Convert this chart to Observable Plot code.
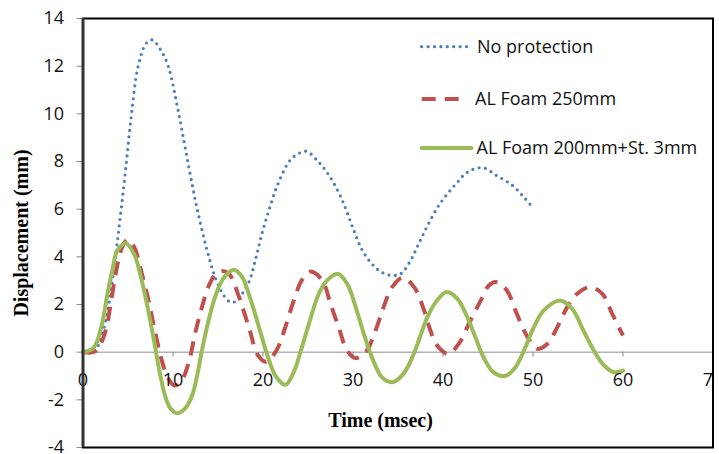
<!DOCTYPE html>
<html>
<head>
<meta charset="utf-8">
<script src="https://cdn.jsdelivr.net/npm/d3@7"></script>
<script src="https://cdn.jsdelivr.net/npm/@observablehq/plot@0.6"></script>
<style>
  body { margin: 0; background: #fff; }
  #chart { position: relative; width: 719px; height: 454px; }
  #legend { position: absolute; left: 0; top: 0; pointer-events: none; }
</style>
</head>
<body>
<div id="chart"></div>
<script>
// Displacement histories (time in msec, displacement in mm)
const noProtT = [0, 1.2, 2.0, 2.87, 3.61, 4.24, 4.83, 5.39, 6.13, 7.0, 7.7, 8.6, 9.47, 10.64, 11.64, 12.69, 13.98, 14.83, 15.7, 16.4, 17.2, 17.9, 18.5, 19.24, 19.9, 20.7, 21.6, 22.9, 23.8, 24.8, 26.0, 27.0, 28.0, 29.0, 30.0, 31.0, 32.0, 33.0, 34.2, 35.3, 36.4, 37.3, 38.2, 39.4, 40.5, 41.6, 42.7, 44.4, 46.0, 47.7, 49.0, 50];
const noProtD = [0, 0, 0.6, 2, 4, 6, 8, 10, 12, 12.95, 13.1, 12.7, 12, 10, 8, 6, 4, 3, 2.35, 2.1, 2.17, 2.59, 3, 4, 5, 6, 7, 8, 8.3, 8.43, 8.05, 7.6, 7.0, 6.2, 5.2, 4.3, 3.75, 3.4, 3.22, 3.29, 3.85, 4.55, 5.25, 6.08, 6.65, 7.13, 7.55, 7.74, 7.4, 7.0, 6.5, 6.05];

const foamT = [0, 1.4, 2.2, 2.7, 3.1, 3.5, 3.9, 4.4, 4.95, 5.7, 6.4, 7.2, 7.9, 8.65, 9.4, 10.2, 11.05, 11.8, 12.5, 13.3, 14.0, 14.8, 15.6, 16.3, 17.4, 18.5, 19.4, 20.3, 21.0, 21.8, 22.5, 23.4, 24.35, 25.3, 26.6, 27.5, 28.4, 29.35, 30.3, 31.4, 32.5, 33.4, 34.35, 35.5, 36.8, 37.9, 38.6, 39.35, 40.6, 41.75, 43.05, 44.2, 45.1, 45.9, 47.1, 48.2, 49.4, 50.5, 51.6, 52.7, 53.8, 54.9, 56.4, 57.7, 58.8, 60];
const foamD = [0, 0.05, 0.55, 1.2, 2.1, 3.0, 3.8, 4.45, 4.72, 4.4, 3.5, 2.3, 1.05, -0.2, -1.05, -1.4, -1.12, -0.35, 0.85, 2.0, 2.8, 3.3, 3.4, 3.25, 2.25, 0.95, -0.1, -0.4, -0.2, 0.3, 1.07, 2.14, 3.04, 3.38, 3.0, 2.03, 1.05, 0.07, -0.25, 0, 0.91, 1.89, 2.73, 3.12, 2.73, 1.75, 0.91, 0.28, -0.07, 0.35, 1.33, 2.17, 2.8, 2.94, 2.59, 1.61, 0.63, 0.14, 0.35, 1.05, 1.89, 2.45, 2.73, 2.45, 1.61, 0.7];

const foamSteelT = [0, 1.05, 1.6, 2.2, 2.7, 3.3, 3.8, 4.75, 5.7, 6.4, 7.2, 7.9, 8.5, 9.1, 9.7, 10.5, 11.3, 12.1, 12.7, 13.2, 14.0, 14.75, 15.7, 16.8, 17.7, 18.5, 19.2, 19.9, 20.5, 21.4, 22.5, 23.4, 24.2, 25.1, 26.2, 27.1, 28.3, 29.35, 30.3, 31.2, 32.1, 33.2, 34.35, 35.6, 36.75, 37.5, 38.3, 39.2, 40.4, 41.6, 42.7, 43.6, 44.5, 45.6, 46.9, 48.05, 49.0, 50.1, 51.2, 53.0, 54.35, 55.6, 56.75, 57.9, 59.0, 60];
const foamSteelD = [0, 0.14, 0.49, 1.33, 2.4, 3.5, 4.25, 4.57, 4.1, 3.2, 1.85, 0.46, -0.8, -1.8, -2.35, -2.56, -2.38, -1.85, -0.95, 0.05, 1.4, 2.4, 3.15, 3.46, 3.14, 2.35, 1.5, 0.6, -0.15, -1.0, -1.37, -0.85, 0.05, 1.19, 2.45, 3.0, 3.29, 2.87, 1.89, 0.77, -0.21, -1.05, -1.26, -0.91, -0.07, 0.7, 1.5, 2.1, 2.52, 2.24, 1.47, 0.63, -0.21, -0.84, -1.0, -0.63, 0.07, 1.05, 1.75, 2.17, 1.82, 0.91, 0.07, -0.56, -0.84, -0.77];

const seriesNames = ["No protection", "AL Foam 250mm", "AL Foam 200mm+St. 3mm"];
const xTicks = [0, 10, 20, 30, 40, 50, 60, 70];
const yTicks = [-4, -2, 0, 2, 4, 6, 8, 10, 12, 14];

const colors = ["#4a7ebb", "#c0504d", "#9bbb59"];
const lineStyles = [
  { strokeWidth: 3.2, strokeDasharray: "0 6.4", strokeLinecap: "round" },
  { strokeWidth: 4, strokeDasharray: "14 9", strokeLinecap: "butt" },
  { strokeWidth: 4, strokeDasharray: null, strokeLinecap: "round" }
];

const toRows = (T, D) => T.map((t, i) => ({ t, d: D[i] }));
const series = [toRows(noProtT, noProtD), toRows(foamT, foamD), toRows(foamSteelT, foamSteelD)];

const sans = "'Open Sans', 'DejaVu Sans', sans-serif";
const serif = "'Liberation Serif', 'DejaVu Serif', serif";

const lineMarks = series.map((rows, i) =>
  Plot.line(rows, {
    x: "t", y: "d", curve: "catmull-rom",
    stroke: colors[i],
    strokeWidth: lineStyles[i].strokeWidth,
    strokeDasharray: lineStyles[i].strokeDasharray,
    strokeLinecap: lineStyles[i].strokeLinecap,
    strokeLinejoin: "round"
  })
);

const chart = Plot.plot({
  width: 719,
  height: 454,
  marginTop: 18,
  marginRight: 6.5,
  marginBottom: 7,
  marginLeft: 82.5,
  x: { domain: [0, 70], axis: null },
  y: { domain: [-4, 14], axis: null },
  style: { fontFamily: sans, fontSize: "18px", color: "#111", background: "#fff" },
  marks: [
    // horizontal axis through zero, with its ticks hanging below
    Plot.ruleY([0], { stroke: "#8c8c8c", strokeWidth: 1 }),
    Plot.ruleX(xTicks, { x: d => d, y1: 0, y2: 0, insetBottom: -5, stroke: "#8c8c8c", strokeWidth: 1 }),
    ...lineMarks,
    // tick labels sit just under the zero line; the last one is cut by the chart edge
    Plot.text(xTicks.slice(0, 1), { x: d => d, y: 0, dy: 28, text: d => String(d), fontSize: 18, fill: "#111" }),
    Plot.text(xTicks.slice(1), { x: d => d, y: 0, dy: 28, text: d => String(d), fontSize: 18, fill: "#111", clip: "frame" }),
    Plot.axisY({
      ticks: yTicks, tickSize: 6, tickPadding: 13, tickFormat: d => String(d),
      stroke: "#8c8c8c", fontSize: 18, label: null, fill: "#111"
    }),
    Plot.frame({ stroke: "#000", strokeWidth: 2 }),
    Plot.ruleX([0], { stroke: "#333", strokeWidth: 3 }),
    Plot.text(["Time (msec)"], {
      text: d => d, frameAnchor: "bottom", lineAnchor: "middle", dx: -17.5, dy: -27,
      fontFamily: serif, fontWeight: "bold", fontSize: 20, fill: "#000"
    }),
    Plot.text(["Displacement (mm)"], {
      text: d => d, frameAnchor: "left", textAnchor: "middle", dx: -61.5, rotate: -90,
      fontFamily: serif, fontWeight: "bold", fontSize: 20, fill: "#000"
    })
  ]
});

const host = document.getElementById("chart");
host.appendChild(chart);

// legend in the upper right of the plot area
const legend = d3.select(host).append("svg")
  .attr("id", "legend")
  .attr("width", 719).attr("height", 454);

const legendRows = [
  { y: 46.7, x2: 467, tx: 477 },
  { y: 99, x2: 461, tx: 475 },
  { y: 148, x2: 471.5, tx: 476.5 }
];

legendRows.forEach((r, i) => {
  legend.append("line")
    .attr("x1", 421.7).attr("x2", r.x2)
    .attr("y1", r.y).attr("y2", r.y)
    .attr("stroke", colors[i])
    .attr("stroke-width", lineStyles[i].strokeWidth)
    .attr("stroke-dasharray", lineStyles[i].strokeDasharray)
    .attr("stroke-linecap", lineStyles[i].strokeLinecap);
  legend.append("text")
    .attr("x", r.tx).attr("y", r.y).attr("dy", "0.36em")
    .attr("font-family", sans).attr("font-size", 18).attr("fill", "#111")
    .text(seriesNames[i]);
});
</script>
</body>
</html>
